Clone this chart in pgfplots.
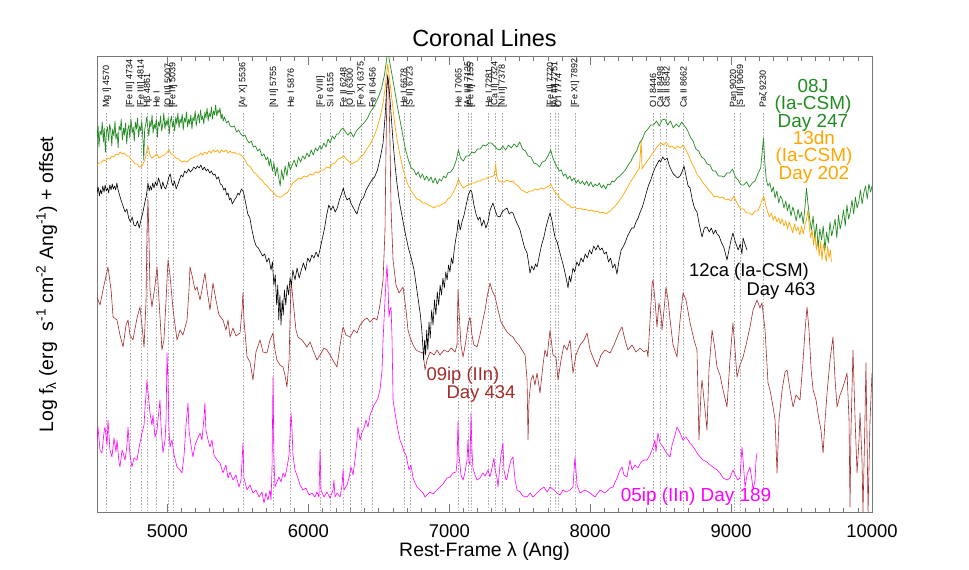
\documentclass[border=0pt]{standalone}
\usepackage{fontspec}
\setmainfont{Liberation Sans}
\usepackage{pgfplots}
\pgfplotsset{compat=1.18}
\definecolor{cgreen}{RGB}{34,139,34}
\definecolor{corange}{RGB}{255,165,0}
\definecolor{cbrown}{RGB}{165,42,42}
\definecolor{cmag}{RGB}{255,0,255}
\definecolor{cframe}{RGB}{120,120,120}
\definecolor{cdot}{RGB}{175,175,175}
\newcommand{\fs}[1]{\fontsize{#1}{#1}\selectfont}
\newcommand{\cl}[2]{\draw[cdot, line width=0.8bp, dash pattern=on 1.6bp off 1.6bp] (axis cs:#1,-113) -- (axis cs:#1,-512);
  \node[rotate=90, anchor=west, inner sep=0pt, font=\fs{9}] at (axis cs:#1,-108) {#2};}
\begin{document}
\begin{tikzpicture}
\begin{axis}[
  at={(97bp,58bp)}, anchor=south west,
  scale only axis, width=775bp, height=455bp,
  xmin=4500, xmax=10000, ymin=-512, ymax=-57,
  xtick={5000,6000,7000,8000,9000,10000}, minor x tick num=9,
  scaled x ticks=false,
  ytick=\empty,
  major tick length=8bp, minor tick length=4bp,
  axis line style={cframe, line width=1bp},
  tick style={cframe, line width=0.8bp},
  xticklabel style={font=\fs{18.5}, anchor=base, yshift=-25bp, text=black},
  /pgf/number format/assume math mode=true,
  /pgf/number format/1000 sep={},
  every axis plot/.append style={line width=0.7bp, line join=round},
]
\cl{4570}{Mg I] 4570}
\cl{4734}{[Fe III] 4734}
\cl{4814}{[Fe III] 4814}
\cl{4861}{Hβ 4861}
\cl{4922}{He I}
\cl{5007}{[O III] 5007}
\cl{5039}{[Fe II] 5039}
\cl{5536}{[Ar X] 5536}
\cl{5755}{[N II] 5755}
\cl{5876}{He I 5876}
\cl{6087}{[Fe VIII]}
\cl{6155}{Si I 6155}
\cl{6248}{Fe II 6248}
\cl{6300}{[O I] 6300}
\cl{6375}{[Fe X] 6375}
\cl{6456}{Fe II 6456}
\cl{6678}{He I 6678}
\cl{6723}{[S II] 6723}
\cl{7065}{He I 7065}
\cl{7135}{[Ar III] 7135}
\cl{7155}{[Fe II] 7155}
\cl{7281}{He I 7281}
\cl{7324}{[Ca II] 7324}
\cl{7378}{[Ni II] 7378}
\cl{7720}{[Fe II] 7720}
\cl{7751}{[Ar III] 7751}
\cl{7774}{O I 7774}
\cl{7892}{[Fe XI] 7892}
\cl{8446}{O I 8446}
\cl{8498}{Ca II 8498}
\cl{8542}{Ca II 8542}
\cl{8662}{Ca II 8662}
\cl{9020}{Paη 9020}
\cl{9069}{[S III] 9069}
\cl{9230}{Paζ 9230}

% 09ip (IIn) Day 434
\addplot[cbrown, line width=0.6bp] table[row sep=\\] {x y\\
4500 -297\\ 4521 -305\\ 4550 -285\\ 4578 -267\\ 4600 -290\\ 4614 -317\\ 4642 -320\\ 4663 -335\\ 4685 -347\\ 4706 -325\\ 4720 -320\\ 4734 -335\\ 4755 -340\\ 4784 -318\\ 4805 -307\\ 4819 -325\\ 4834 -347\\ 4848 -300\\ 4855 -230\\ 4862 -200\\ 4869 -240\\ 4876 -290\\ 4890 -307\\ 4912 -285\\ 4926 -267\\ 4940 -300\\ 4961 -350\\ 4975 -340\\ 4990 -300\\ 5004 -260\\ 5018 -275\\ 5040 -310\\ 5068 -340\\ 5089 -330\\ 5110 -335\\ 5139 -320\\ 5153 -290\\ 5160 -267\\ 5174 -275\\ 5196 -290\\ 5210 -287\\ 5231 -300\\ 5245 -290\\ 5266 -273\\ 5281 -290\\ 5302 -310\\ 5323 -283\\ 5344 -300\\ 5366 -315\\ 5394 -320\\ 5415 -330\\ 5430 -320\\ 5444 -337\\ 5465 -328\\ 5486 -336\\ 5515 -333\\ 5529 -310\\ 5536 -293\\ 5543 -320\\ 5565 -357\\ 5586 -362\\ 5607 -380\\ 5628 -352\\ 5657 -340\\ 5678 -352\\ 5706 -353\\ 5728 -340\\ 5749 -333\\ 5763 -350\\ 5777 -360\\ 5799 -365\\ 5820 -367\\ 5834 -375\\ 5848 -387\\ 5863 -360\\ 5877 -280\\ 5891 -300\\ 5912 -330\\ 5926 -337\\ 5955 -340\\ 5990 -347\\ 6012 -342\\ 6033 -350\\ 6061 -360\\ 6083 -355\\ 6111 -348\\ 6132 -350\\ 6154 -355\\ 6182 -362\\ 6203 -367\\ 6225 -345\\ 6246 -327\\ 6267 -335\\ 6296 -337\\ 6324 -330\\ 6345 -333\\ 6367 -325\\ 6395 -320\\ 6416 -318\\ 6438 -322\\ 6466 -318\\ 6487 -320\\ 6508 -305\\ 6530 -280\\ 6544 -230\\ 6551 -150\\ 6558 -85\\ 6565 -80\\ 6572 -95\\ 6579 -140\\ 6587 -210\\ 6601 -260\\ 6622 -285\\ 6643 -293\\ 6672 -287\\ 6693 -310\\ 6707 -330\\ 6721 -337\\ 6743 -345\\ 6764 -350\\ 6792 -352\\ 6814 -353\\ 6828 -370\\ 6842 -360\\ 6863 -352\\ 6892 -355\\ 6913 -350\\ 6934 -355\\ 6963 -350\\ 6991 -352\\ 7013 -348\\ 7041 -352\\ 7055 -345\\ 7062 -290\\ 7069 -310\\ 7083 -345\\ 7098 -357\\ 7119 -340\\ 7133 -325\\ 7147 -317\\ 7161 -335\\ 7175 -345\\ 7197 -347\\ 7218 -335\\ 7239 -320\\ 7254 -310\\ 7268 -297\\ 7289 -283\\ 7303 -290\\ 7325 -297\\ 7346 -310\\ 7367 -322\\ 7388 -327\\ 7410 -332\\ 7431 -335\\ 7452 -337\\ 7474 -342\\ 7495 -345\\ 7516 -350\\ 7538 -355\\ 7552 -380\\ 7559 -440\\ 7566 -400\\ 7580 -380\\ 7594 -375\\ 7608 -385\\ 7623 -373\\ 7644 -393\\ 7665 -365\\ 7679 -350\\ 7694 -357\\ 7715 -330\\ 7736 -355\\ 7757 -357\\ 7772 -380\\ 7793 -360\\ 7814 -345\\ 7836 -350\\ 7857 -340\\ 7878 -373\\ 7899 -355\\ 7928 -345\\ 7956 -340\\ 7978 -333\\ 7999 -350\\ 8027 -360\\ 8049 -367\\ 8077 -355\\ 8105 -350\\ 8141 -353\\ 8169 -345\\ 8197 -335\\ 8212 -330\\ 8226 -327\\ 8247 -340\\ 8268 -350\\ 8297 -345\\ 8325 -352\\ 8354 -348\\ 8382 -352\\ 8403 -350\\ 8410 -357\\ 8425 -320\\ 8439 -285\\ 8446 -280\\ 8460 -300\\ 8474 -327\\ 8488 -303\\ 8503 -315\\ 8510 -330\\ 8524 -310\\ 8538 -287\\ 8553 -300\\ 8567 -320\\ 8588 -345\\ 8616 -357\\ 8638 -320\\ 8659 -293\\ 8680 -300\\ 8709 -323\\ 8737 -340\\ 8758 -350\\ 8772 -440\\ 8787 -390\\ 8794 -380\\ 8815 -410\\ 8829 -430\\ 8843 -370\\ 8865 -330\\ 8886 -350\\ 8900 -367\\ 8921 -375\\ 8943 -390\\ 8971 -407\\ 8992 -360\\ 9013 -323\\ 9028 -350\\ 9042 -377\\ 9063 -365\\ 9085 -357\\ 9106 -345\\ 9134 -327\\ 9156 -310\\ 9184 -300\\ 9205 -308\\ 9219 -303\\ 9241 -330\\ 9262 -383\\ 9276 -390\\ 9298 -407\\ 9312 -420\\ 9326 -473\\ 9340 -420\\ 9362 -390\\ 9383 -372\\ 9397 -370\\ 9418 -390\\ 9440 -407\\ 9461 -395\\ 9489 -400\\ 9511 -360\\ 9525 -330\\ 9539 -307\\ 9553 -330\\ 9568 -370\\ 9582 -390\\ 9603 -400\\ 9624 -420\\ 9638 -430\\ 9653 -453\\ 9667 -420\\ 9681 -393\\ 9702 -360\\ 9723 -337\\ 9738 -380\\ 9752 -407\\ 9773 -395\\ 9787 -390\\ 9809 -380\\ 9823 -373\\ 9837 -420\\ 9844 -507\\ 9851 -430\\ 9865 -350\\ 9880 -420\\ 9894 -473\\ 9908 -440\\ 9915 -413\\ 9929 -460\\ 9936 -512\\ 9950 -420\\ 9957 -363\\ 9965 -440\\ 9972 -512\\ 9986 -420\\ 10000 -373\\
};

% 05ip (IIn) Day 189
\addplot[cmag, line width=0.6bp] table[row sep=\\] {x y\\
4500 -440\\ 4507 -427\\ 4521 -450\\ 4535 -453\\ 4550 -432\\ 4557 -427\\ 4571 -445\\ 4578 -420\\ 4592 -450\\ 4606 -457\\ 4621 -438\\ 4635 -452\\ 4642 -440\\ 4656 -462\\ 4663 -467\\ 4678 -450\\ 4685 -453\\ 4699 -460\\ 4713 -445\\ 4720 -427\\ 4734 -455\\ 4748 -467\\ 4762 -458\\ 4784 -460\\ 4798 -448\\ 4819 -433\\ 4834 -425\\ 4841 -407\\ 4848 -395\\ 4855 -380\\ 4862 -392\\ 4876 -413\\ 4890 -425\\ 4897 -415\\ 4912 -437\\ 4926 -430\\ 4940 -410\\ 4947 -400\\ 4954 -425\\ 4968 -453\\ 4983 -440\\ 4990 -420\\ 4997 -353\\ 5004 -380\\ 5011 -430\\ 5018 -447\\ 5032 -440\\ 5047 -455\\ 5068 -467\\ 5089 -470\\ 5103 -473\\ 5118 -455\\ 5132 -425\\ 5146 -403\\ 5153 -430\\ 5167 -445\\ 5181 -457\\ 5196 -445\\ 5210 -440\\ 5231 -433\\ 5245 -440\\ 5259 -418\\ 5266 -403\\ 5273 -430\\ 5288 -440\\ 5302 -447\\ 5316 -440\\ 5330 -455\\ 5352 -460\\ 5373 -463\\ 5394 -473\\ 5415 -465\\ 5430 -478\\ 5444 -472\\ 5465 -480\\ 5486 -475\\ 5508 -487\\ 5522 -480\\ 5536 -443\\ 5543 -478\\ 5565 -490\\ 5586 -485\\ 5607 -493\\ 5628 -490\\ 5650 -497\\ 5671 -492\\ 5685 -503\\ 5699 -493\\ 5713 -500\\ 5728 -490\\ 5735 -500\\ 5742 -470\\ 5749 -377\\ 5756 -460\\ 5763 -487\\ 5777 -482\\ 5791 -477\\ 5806 -482\\ 5820 -473\\ 5834 -477\\ 5848 -468\\ 5863 -455\\ 5870 -435\\ 5877 -413\\ 5884 -430\\ 5891 -455\\ 5905 -470\\ 5926 -478\\ 5941 -485\\ 5962 -490\\ 5983 -488\\ 6005 -495\\ 6026 -493\\ 6047 -497\\ 6061 -492\\ 6075 -497\\ 6083 -450\\ 6090 -490\\ 6111 -497\\ 6132 -492\\ 6154 -498\\ 6175 -490\\ 6182 -480\\ 6189 -497\\ 6203 -493\\ 6225 -497\\ 6239 -485\\ 6246 -470\\ 6253 -490\\ 6274 -485\\ 6288 -478\\ 6303 -467\\ 6317 -475\\ 6331 -460\\ 6345 -440\\ 6352 -427\\ 6367 -440\\ 6381 -432\\ 6395 -428\\ 6409 -420\\ 6423 -427\\ 6438 -415\\ 6452 -410\\ 6466 -405\\ 6480 -402\\ 6494 -398\\ 6508 -390\\ 6523 -370\\ 6530 -340\\ 6537 -320\\ 6544 -300\\ 6551 -280\\ 6558 -265\\ 6565 -285\\ 6572 -317\\ 6579 -310\\ 6587 -307\\ 6594 -340\\ 6601 -400\\ 6615 -413\\ 6629 -425\\ 6650 -440\\ 6665 -445\\ 6679 -452\\ 6693 -455\\ 6700 -460\\ 6714 -470\\ 6728 -465\\ 6743 -478\\ 6757 -483\\ 6771 -487\\ 6792 -490\\ 6814 -493\\ 6828 -497\\ 6842 -495\\ 6863 -492\\ 6885 -494\\ 6913 -490\\ 6934 -487\\ 6956 -484\\ 6984 -478\\ 7005 -477\\ 7027 -473\\ 7048 -472\\ 7055 -462\\ 7062 -422\\ 7069 -455\\ 7083 -475\\ 7098 -480\\ 7112 -472\\ 7126 -460\\ 7133 -440\\ 7140 -462\\ 7147 -465\\ 7154 -413\\ 7161 -450\\ 7168 -468\\ 7183 -475\\ 7197 -480\\ 7218 -478\\ 7239 -473\\ 7254 -476\\ 7275 -470\\ 7289 -477\\ 7303 -468\\ 7317 -458\\ 7325 -470\\ 7339 -478\\ 7346 -487\\ 7360 -465\\ 7367 -455\\ 7381 -443\\ 7388 -470\\ 7403 -480\\ 7410 -478\\ 7424 -468\\ 7438 -460\\ 7452 -457\\ 7467 -480\\ 7481 -490\\ 7502 -492\\ 7523 -496\\ 7552 -497\\ 7573 -493\\ 7594 -497\\ 7623 -493\\ 7644 -490\\ 7672 -487\\ 7694 -492\\ 7715 -487\\ 7743 -490\\ 7765 -493\\ 7786 -495\\ 7807 -490\\ 7828 -492\\ 7857 -490\\ 7878 -487\\ 7892 -457\\ 7907 -485\\ 7928 -493\\ 7963 -490\\ 7999 -493\\ 8034 -497\\ 8070 -490\\ 8105 -493\\ 8141 -488\\ 8162 -487\\ 8190 -478\\ 8212 -470\\ 8226 -467\\ 8240 -475\\ 8261 -477\\ 8283 -460\\ 8297 -470\\ 8318 -465\\ 8339 -468\\ 8361 -462\\ 8382 -460\\ 8403 -460\\ 8425 -455\\ 8446 -447\\ 8460 -440\\ 8467 -452\\ 8481 -433\\ 8496 -443\\ 8517 -447\\ 8538 -452\\ 8553 -455\\ 8567 -457\\ 8581 -445\\ 8602 -435\\ 8616 -427\\ 8638 -433\\ 8659 -440\\ 8680 -437\\ 8709 -443\\ 8737 -448\\ 8758 -453\\ 8780 -457\\ 8801 -460\\ 8829 -462\\ 8850 -465\\ 8872 -467\\ 8900 -470\\ 8921 -473\\ 8943 -478\\ 8971 -480\\ 8992 -478\\ 9013 -470\\ 9028 -475\\ 9049 -480\\ 9063 -478\\ 9077 -447\\ 9085 -460\\ 9099 -487\\ 9113 -475\\ 9134 -467\\ 9148 -480\\ 9156 -490\\ 9170 -480\\ 9177 -460\\ 9184 -453\\
};

% 12ca (Ia-CSM) Day 463
\addplot[black, line width=0.6bp] table[row sep=\\] {x y\\
4500 -193\\ 4508 -187\\ 4517 -196\\ 4525 -190\\ 4533 -194\\ 4541 -186\\ 4550 -192\\ 4558 -185\\ 4566 -191\\ 4575 -188\\ 4583 -193\\ 4591 -185\\ 4600 -190\\ 4608 -184\\ 4616 -189\\ 4625 -186\\ 4633 -190\\ 4641 -183\\ 4650 -190\\ 4662 -196\\ 4675 -202\\ 4687 -207\\ 4700 -212\\ 4712 -209\\ 4725 -218\\ 4737 -222\\ 4750 -217\\ 4762 -225\\ 4775 -226\\ 4787 -221\\ 4800 -228\\ 4812 -220\\ 4825 -213\\ 4837 -204\\ 4850 -196\\ 4862 -183\\ 4870 -191\\ 4878 -186\\ 4887 -190\\ 4895 -183\\ 4905 -188\\ 4914 -182\\ 4925 -186\\ 4937 -178\\ 4947 -183\\ 4957 -189\\ 4967 -182\\ 4977 -187\\ 4987 -189\\ 5000 -183\\ 5010 -177\\ 5020 -174\\ 5030 -182\\ 5040 -186\\ 5050 -181\\ 5062 -189\\ 5075 -184\\ 5087 -179\\ 5097 -175\\ 5110 -177\\ 5122 -171\\ 5135 -173\\ 5150 -169\\ 5162 -172\\ 5175 -170\\ 5187 -167\\ 5200 -169\\ 5212 -166\\ 5225 -168\\ 5237 -165\\ 5250 -170\\ 5262 -167\\ 5275 -171\\ 5287 -169\\ 5300 -173\\ 5312 -171\\ 5325 -175\\ 5337 -174\\ 5350 -179\\ 5362 -177\\ 5375 -184\\ 5387 -185\\ 5400 -190\\ 5410 -188\\ 5420 -195\\ 5430 -193\\ 5440 -200\\ 5450 -198\\ 5460 -204\\ 5475 -200\\ 5490 -197\\ 5500 -193\\ 5510 -195\\ 5525 -189\\ 5540 -192\\ 5555 -203\\ 5570 -214\\ 5585 -218\\ 5600 -230\\ 5615 -240\\ 5630 -246\\ 5645 -248\\ 5660 -252\\ 5675 -256\\ 5690 -254\\ 5705 -262\\ 5720 -258\\ 5735 -270\\ 5745 -262\\ 5755 -285\\ 5765 -275\\ 5775 -305\\ 5783 -285\\ 5790 -320\\ 5798 -295\\ 5806 -325\\ 5814 -300\\ 5822 -315\\ 5830 -290\\ 5840 -305\\ 5850 -285\\ 5860 -295\\ 5870 -278\\ 5880 -285\\ 5890 -270\\ 5905 -280\\ 5920 -268\\ 5935 -278\\ 5950 -270\\ 5965 -263\\ 5980 -270\\ 5995 -258\\ 6010 -262\\ 6025 -255\\ 6040 -258\\ 6055 -252\\ 6070 -257\\ 6085 -248\\ 6100 -238\\ 6115 -228\\ 6130 -215\\ 6145 -205\\ 6160 -210\\ 6175 -206\\ 6190 -212\\ 6205 -208\\ 6220 -200\\ 6235 -194\\ 6248 -188\\ 6260 -195\\ 6275 -200\\ 6290 -198\\ 6305 -204\\ 6320 -208\\ 6335 -212\\ 6345 -214\\ 6360 -206\\ 6375 -200\\ 6390 -198\\ 6410 -190\\ 6430 -185\\ 6450 -180\\ 6470 -177\\ 6490 -170\\ 6510 -158\\ 6530 -143\\ 6545 -115\\ 6555 -90\\ 6563 -75\\ 6572 -86\\ 6585 -110\\ 6600 -140\\ 6615 -165\\ 6630 -185\\ 6650 -205\\ 6670 -220\\ 6690 -235\\ 6710 -248\\ 6730 -258\\ 6750 -270\\ 6765 -285\\ 6780 -300\\ 6795 -315\\ 6805 -330\\ 6812 -345\\ 6818 -360\\ 6825 -340\\ 6832 -355\\ 6840 -330\\ 6848 -350\\ 6856 -322\\ 6865 -338\\ 6875 -310\\ 6885 -325\\ 6895 -300\\ 6905 -315\\ 6915 -292\\ 6925 -305\\ 6935 -285\\ 6945 -295\\ 6955 -278\\ 6965 -288\\ 6975 -272\\ 6985 -280\\ 6995 -265\\ 7005 -272\\ 7015 -258\\ 7025 -264\\ 7035 -250\\ 7045 -240\\ 7055 -232\\ 7065 -220\\ 7078 -230\\ 7090 -222\\ 7105 -215\\ 7120 -205\\ 7135 -195\\ 7150 -190\\ 7160 -192\\ 7175 -205\\ 7190 -214\\ 7205 -220\\ 7218 -217\\ 7230 -226\\ 7245 -220\\ 7260 -228\\ 7275 -222\\ 7290 -210\\ 7310 -203\\ 7325 -210\\ 7340 -216\\ 7360 -217\\ 7375 -212\\ 7390 -210\\ 7410 -208\\ 7425 -214\\ 7440 -212\\ 7452 -213\\ 7470 -220\\ 7490 -226\\ 7502 -230\\ 7520 -240\\ 7535 -248\\ 7552 -253\\ 7562 -262\\ 7573 -273\\ 7585 -266\\ 7600 -270\\ 7612 -264\\ 7623 -267\\ 7640 -255\\ 7655 -245\\ 7670 -238\\ 7685 -228\\ 7700 -220\\ 7715 -213\\ 7728 -220\\ 7740 -230\\ 7752 -238\\ 7765 -242\\ 7780 -250\\ 7795 -258\\ 7807 -264\\ 7820 -272\\ 7832 -280\\ 7843 -288\\ 7852 -276\\ 7862 -282\\ 7878 -268\\ 7890 -272\\ 7905 -262\\ 7920 -266\\ 7935 -258\\ 7950 -262\\ 7965 -254\\ 7980 -258\\ 7995 -250\\ 8010 -254\\ 8025 -246\\ 8040 -250\\ 8055 -245\\ 8070 -250\\ 8085 -248\\ 8100 -254\\ 8115 -252\\ 8130 -262\\ 8145 -258\\ 8160 -268\\ 8175 -264\\ 8190 -274\\ 8205 -260\\ 8220 -250\\ 8233 -247\\ 8250 -242\\ 8265 -236\\ 8280 -232\\ 8295 -228\\ 8310 -228\\ 8325 -222\\ 8340 -218\\ 8355 -212\\ 8370 -207\\ 8385 -200\\ 8400 -192\\ 8415 -185\\ 8430 -180\\ 8446 -173\\ 8460 -168\\ 8475 -164\\ 8490 -160\\ 8500 -162\\ 8515 -157\\ 8530 -160\\ 8546 -158\\ 8560 -165\\ 8575 -170\\ 8590 -174\\ 8605 -176\\ 8620 -178\\ 8638 -176\\ 8652 -172\\ 8666 -166\\ 8680 -176\\ 8695 -186\\ 8709 -188\\ 8725 -200\\ 8740 -208\\ 8758 -212\\ 8775 -225\\ 8794 -237\\ 8810 -228\\ 8829 -227\\ 8845 -232\\ 8860 -228\\ 8875 -234\\ 8890 -230\\ 8900 -234\\ 8915 -236\\ 8930 -242\\ 8950 -248\\ 8971 -260\\ 8985 -250\\ 9000 -240\\ 9013 -233\\ 9030 -242\\ 9050 -250\\ 9065 -244\\ 9077 -254\\ 9085 -238\\ 9100 -245\\ 9113 -250\\
};

% 13dn (Ia-CSM) Day 202
\addplot[corange, line width=0.7bp] table[row sep=\\] {x y\\
4500 -165\\ 4515 -163\\ 4530 -163\\ 4545 -160\\ 4560 -161\\ 4575 -158\\ 4590 -159\\ 4605 -156\\ 4620 -157\\ 4635 -154\\ 4650 -155\\ 4665 -152\\ 4680 -154\\ 4695 -153\\ 4710 -156\\ 4725 -156\\ 4740 -159\\ 4755 -161\\ 4770 -164\\ 4785 -164\\ 4800 -167\\ 4820 -166\\ 4840 -160\\ 4855 -150\\ 4862 -146\\ 4875 -155\\ 4890 -158\\ 4910 -156\\ 4925 -154\\ 4940 -158\\ 4960 -156\\ 4980 -155\\ 5000 -152\\ 5012 -150\\ 5025 -154\\ 5040 -155\\ 5060 -158\\ 5080 -159\\ 5100 -162\\ 5120 -161\\ 5140 -162\\ 5160 -159\\ 5180 -158\\ 5200 -156\\ 5220 -156\\ 5235 -153\\ 5250 -155\\ 5265 -152\\ 5280 -154\\ 5295 -151\\ 5310 -153\\ 5325 -150\\ 5340 -152\\ 5355 -150\\ 5370 -153\\ 5385 -150\\ 5400 -152\\ 5415 -150\\ 5430 -153\\ 5445 -151\\ 5460 -153\\ 5475 -152\\ 5490 -154\\ 5510 -154\\ 5530 -156\\ 5550 -160\\ 5570 -165\\ 5590 -167\\ 5610 -172\\ 5630 -174\\ 5650 -178\\ 5670 -180\\ 5690 -184\\ 5710 -186\\ 5730 -190\\ 5750 -192\\ 5770 -196\\ 5790 -197\\ 5810 -197\\ 5830 -194\\ 5850 -193\\ 5870 -188\\ 5890 -183\\ 5910 -181\\ 5930 -178\\ 5950 -179\\ 5970 -176\\ 5990 -177\\ 6010 -174\\ 6030 -175\\ 6050 -172\\ 6070 -173\\ 6090 -170\\ 6110 -170\\ 6130 -167\\ 6150 -168\\ 6170 -164\\ 6190 -163\\ 6210 -159\\ 6230 -158\\ 6250 -156\\ 6270 -159\\ 6290 -162\\ 6310 -164\\ 6330 -162\\ 6350 -161\\ 6370 -157\\ 6390 -155\\ 6410 -150\\ 6430 -146\\ 6450 -141\\ 6470 -135\\ 6490 -127\\ 6510 -117\\ 6530 -103\\ 6545 -88\\ 6555 -74\\ 6563 -64\\ 6572 -74\\ 6585 -90\\ 6600 -108\\ 6615 -126\\ 6630 -140\\ 6650 -155\\ 6670 -168\\ 6690 -178\\ 6710 -186\\ 6730 -191\\ 6750 -195\\ 6770 -199\\ 6790 -200\\ 6810 -203\\ 6830 -203\\ 6850 -205\\ 6870 -206\\ 6890 -208\\ 6910 -206\\ 6930 -206\\ 6950 -204\\ 6970 -203\\ 6990 -199\\ 7010 -197\\ 7030 -192\\ 7050 -186\\ 7065 -179\\ 7080 -184\\ 7100 -188\\ 7120 -186\\ 7140 -185\\ 7160 -183\\ 7180 -183\\ 7200 -181\\ 7220 -181\\ 7240 -179\\ 7260 -179\\ 7280 -177\\ 7300 -177\\ 7320 -175\\ 7330 -164\\ 7336 -176\\ 7350 -181\\ 7370 -182\\ 7390 -182\\ 7410 -180\\ 7430 -182\\ 7450 -181\\ 7470 -184\\ 7490 -186\\ 7510 -190\\ 7530 -191\\ 7550 -193\\ 7570 -191\\ 7590 -191\\ 7610 -189\\ 7630 -190\\ 7650 -188\\ 7670 -189\\ 7690 -187\\ 7710 -186\\ 7720 -184\\ 7730 -187\\ 7750 -192\\ 7770 -195\\ 7790 -199\\ 7810 -201\\ 7830 -204\\ 7850 -205\\ 7870 -208\\ 7890 -207\\ 7910 -209\\ 7930 -208\\ 7950 -210\\ 7970 -209\\ 7990 -211\\ 8010 -210\\ 8030 -212\\ 8050 -211\\ 8070 -213\\ 8090 -212\\ 8110 -214\\ 8130 -212\\ 8150 -210\\ 8170 -207\\ 8190 -204\\ 8210 -200\\ 8230 -196\\ 8250 -191\\ 8270 -186\\ 8290 -181\\ 8310 -177\\ 8330 -172\\ 8350 -168\\ 8362 -140\\ 8368 -169\\ 8380 -166\\ 8400 -162\\ 8420 -158\\ 8440 -154\\ 8460 -150\\ 8480 -146\\ 8500 -143\\ 8520 -145\\ 8540 -142\\ 8560 -147\\ 8580 -146\\ 8600 -149\\ 8620 -146\\ 8640 -148\\ 8660 -145\\ 8680 -150\\ 8700 -156\\ 8720 -163\\ 8740 -168\\ 8760 -175\\ 8780 -178\\ 8800 -183\\ 8820 -186\\ 8840 -190\\ 8860 -193\\ 8880 -197\\ 8900 -196\\ 8920 -198\\ 8940 -197\\ 8960 -200\\ 8980 -199\\ 9000 -201\\ 9020 -196\\ 9035 -201\\ 9050 -205\\ 9070 -209\\ 9090 -209\\ 9110 -213\\ 9130 -213\\ 9150 -215\\ 9170 -211\\ 9190 -211\\ 9205 -206\\ 9220 -200\\ 9232 -196\\ 9245 -205\\ 9260 -212\\ 9272 -217\\ 9285 -213\\ 9300 -220\\ 9312 -216\\ 9325 -222\\ 9338 -218\\ 9350 -224\\ 9362 -219\\ 9375 -226\\ 9388 -221\\ 9400 -229\\ 9412 -222\\ 9425 -227\\ 9438 -233\\ 9450 -224\\ 9462 -231\\ 9475 -227\\ 9488 -235\\ 9500 -226\\ 9512 -234\\ 9525 -224\\ 9535 -220\\ 9545 -210\\ 9555 -227\\ 9565 -238\\ 9575 -230\\ 9585 -245\\ 9595 -233\\ 9605 -250\\ 9615 -238\\ 9625 -256\\ 9635 -241\\ 9645 -260\\ 9655 -244\\ 9665 -252\\ 9675 -262\\ 9685 -246\\ 9695 -258\\ 9705 -250\\ 9712 -262\\
};

% 08J (Ia-CSM) Day 247
\addplot[cgreen, line width=0.7bp] table[row sep=\\] {x y\\
4500 -138\\ 4508 -126\\ 4514 -147\\ 4522 -131\\ 4530 -135\\ 4537 -122\\ 4545 -142\\ 4551 -128\\ 4560 -152\\ 4566 -133\\ 4574 -127\\ 4583 -141\\ 4590 -124\\ 4598 -131\\ 4605 -146\\ 4611 -129\\ 4620 -136\\ 4628 -121\\ 4634 -139\\ 4643 -133\\ 4650 -148\\ 4657 -126\\ 4666 -130\\ 4672 -119\\ 4680 -140\\ 4689 -128\\ 4695 -135\\ 4703 -123\\ 4711 -144\\ 4718 -130\\ 4726 -125\\ 4733 -138\\ 4741 -119\\ 4750 -133\\ 4757 -127\\ 4765 -141\\ 4772 -122\\ 4780 -129\\ 4788 -118\\ 4795 -137\\ 4803 -126\\ 4811 -131\\ 4818 -121\\ 4826 -139\\ 4832 -160\\ 4838 -130\\ 4846 -124\\ 4853 -117\\ 4861 -128\\ 4868 -136\\ 4875 -121\\ 4883 -127\\ 4891 -115\\ 4898 -133\\ 4906 -124\\ 4913 -129\\ 4921 -119\\ 4929 -137\\ 4936 -122\\ 4944 -126\\ 4951 -116\\ 4959 -131\\ 4967 -124\\ 4974 -113\\ 4982 -129\\ 4990 -120\\ 4997 -126\\ 5005 -118\\ 5013 -134\\ 5020 -122\\ 5028 -116\\ 5036 -127\\ 5043 -121\\ 5051 -131\\ 5059 -117\\ 5066 -124\\ 5074 -113\\ 5082 -128\\ 5089 -119\\ 5097 -123\\ 5105 -114\\ 5112 -130\\ 5120 -118\\ 5128 -122\\ 5135 -112\\ 5143 -127\\ 5151 -119\\ 5158 -124\\ 5166 -115\\ 5174 -129\\ 5181 -117\\ 5189 -121\\ 5197 -111\\ 5204 -126\\ 5212 -118\\ 5220 -114\\ 5227 -123\\ 5235 -110\\ 5243 -120\\ 5250 -116\\ 5258 -124\\ 5266 -112\\ 5273 -118\\ 5281 -108\\ 5289 -121\\ 5296 -113\\ 5304 -117\\ 5312 -107\\ 5319 -119\\ 5327 -111\\ 5335 -115\\ 5342 -105\\ 5350 -116\\ 5358 -110\\ 5365 -113\\ 5373 -108\\ 5381 -119\\ 5388 -114\\ 5396 -121\\ 5404 -117\\ 5420 -123\\ 5432 -121\\ 5445 -126\\ 5460 -127\\ 5475 -126\\ 5490 -132\\ 5505 -130\\ 5520 -134\\ 5535 -136\\ 5550 -135\\ 5565 -140\\ 5580 -143\\ 5595 -141\\ 5610 -147\\ 5625 -146\\ 5640 -151\\ 5655 -149\\ 5670 -156\\ 5685 -154\\ 5700 -160\\ 5712 -157\\ 5722 -166\\ 5732 -159\\ 5745 -171\\ 5756 -163\\ 5766 -176\\ 5778 -167\\ 5790 -178\\ 5800 -186\\ 5810 -170\\ 5822 -180\\ 5835 -166\\ 5848 -176\\ 5860 -162\\ 5872 -170\\ 5885 -165\\ 5900 -160\\ 5915 -167\\ 5930 -157\\ 5945 -162\\ 5960 -156\\ 5975 -159\\ 5990 -153\\ 6005 -157\\ 6020 -150\\ 6035 -155\\ 6050 -148\\ 6065 -151\\ 6080 -146\\ 6095 -149\\ 6110 -143\\ 6125 -147\\ 6140 -139\\ 6155 -143\\ 6170 -136\\ 6185 -139\\ 6200 -134\\ 6215 -134\\ 6230 -130\\ 6245 -128\\ 6260 -131\\ 6280 -135\\ 6300 -132\\ 6320 -137\\ 6340 -131\\ 6360 -128\\ 6380 -125\\ 6400 -122\\ 6420 -118\\ 6440 -112\\ 6460 -108\\ 6480 -102\\ 6500 -96\\ 6520 -88\\ 6540 -75\\ 6555 -60\\ 6563 -45\\ 6572 -58\\ 6590 -72\\ 6610 -88\\ 6630 -105\\ 6650 -120\\ 6670 -135\\ 6690 -150\\ 6710 -160\\ 6730 -168\\ 6750 -170\\ 6765 -175\\ 6780 -172\\ 6795 -178\\ 6810 -174\\ 6825 -180\\ 6840 -176\\ 6855 -181\\ 6870 -177\\ 6885 -183\\ 6900 -178\\ 6915 -184\\ 6930 -179\\ 6945 -181\\ 6960 -176\\ 6975 -178\\ 6990 -173\\ 7010 -172\\ 7030 -168\\ 7050 -160\\ 7065 -150\\ 7080 -158\\ 7100 -161\\ 7120 -156\\ 7140 -156\\ 7160 -152\\ 7180 -153\\ 7200 -149\\ 7220 -149\\ 7240 -145\\ 7260 -146\\ 7280 -143\\ 7300 -143\\ 7320 -146\\ 7340 -149\\ 7360 -150\\ 7380 -146\\ 7400 -150\\ 7420 -145\\ 7440 -148\\ 7460 -144\\ 7480 -147\\ 7500 -142\\ 7520 -149\\ 7540 -151\\ 7560 -156\\ 7580 -157\\ 7600 -163\\ 7620 -164\\ 7640 -167\\ 7660 -162\\ 7680 -161\\ 7700 -156\\ 7720 -150\\ 7735 -158\\ 7750 -163\\ 7765 -167\\ 7780 -171\\ 7795 -170\\ 7810 -176\\ 7825 -174\\ 7840 -179\\ 7855 -176\\ 7870 -181\\ 7885 -178\\ 7900 -183\\ 7915 -180\\ 7930 -184\\ 7945 -181\\ 7960 -185\\ 7975 -181\\ 7990 -186\\ 8005 -182\\ 8020 -187\\ 8035 -184\\ 8050 -186\\ 8065 -183\\ 8080 -188\\ 8095 -185\\ 8110 -189\\ 8125 -184\\ 8140 -185\\ 8155 -181\\ 8170 -182\\ 8190 -178\\ 8210 -176\\ 8230 -173\\ 8250 -170\\ 8270 -165\\ 8290 -161\\ 8310 -155\\ 8330 -151\\ 8350 -143\\ 8370 -139\\ 8390 -132\\ 8410 -129\\ 8430 -125\\ 8450 -125\\ 8470 -121\\ 8490 -126\\ 8510 -120\\ 8530 -119\\ 8550 -125\\ 8570 -121\\ 8590 -128\\ 8610 -124\\ 8630 -127\\ 8650 -122\\ 8670 -126\\ 8690 -130\\ 8710 -137\\ 8730 -141\\ 8750 -149\\ 8770 -151\\ 8790 -157\\ 8810 -159\\ 8830 -164\\ 8850 -165\\ 8870 -171\\ 8890 -171\\ 8910 -176\\ 8930 -176\\ 8950 -177\\ 8970 -173\\ 8990 -173\\ 9010 -169\\ 9030 -177\\ 9050 -180\\ 9070 -185\\ 9090 -185\\ 9110 -182\\ 9130 -187\\ 9150 -183\\ 9170 -181\\ 9190 -174\\ 9210 -168\\ 9222 -150\\ 9230 -138\\ 9238 -160\\ 9250 -180\\ 9262 -186\\ 9275 -183\\ 9288 -192\\ 9300 -187\\ 9312 -198\\ 9325 -191\\ 9338 -203\\ 9350 -196\\ 9362 -199\\ 9375 -208\\ 9388 -201\\ 9400 -211\\ 9412 -204\\ 9425 -216\\ 9438 -207\\ 9450 -213\\ 9462 -221\\ 9475 -209\\ 9488 -218\\ 9500 -212\\ 9512 -224\\ 9525 -206\\ 9535 -188\\ 9545 -203\\ 9558 -219\\ 9570 -230\\ 9582 -216\\ 9594 -238\\ 9606 -224\\ 9618 -247\\ 9630 -229\\ 9642 -240\\ 9654 -226\\ 9666 -250\\ 9678 -232\\ 9690 -243\\ 9702 -222\\ 9714 -236\\ 9726 -228\\ 9738 -219\\ 9750 -238\\ 9762 -215\\ 9774 -229\\ 9786 -221\\ 9798 -210\\ 9810 -226\\ 9822 -205\\ 9834 -219\\ 9846 -212\\ 9858 -200\\ 9870 -214\\ 9882 -197\\ 9894 -208\\ 9906 -202\\ 9918 -190\\ 9930 -204\\ 9942 -193\\ 9954 -186\\ 9966 -199\\ 9978 -184\\ 9990 -192\\ 10000 -186\\
};

\node[cgreen, align=center, font=\fontsize{19}{17.5}\selectfont, inner sep=0pt] at (axis cs:9581,-105) {08J\\(Ia-CSM)\\Day 247};
\node[corange, align=center, font=\fontsize{19}{17.5}\selectfont, inner sep=0pt] at (axis cs:9588,-157) {13dn\\(Ia-CSM)\\Day 202};
\node[black, font=\fs{18.5}, inner sep=0pt] at (axis cs:9127,-272) {12ca (Ia-CSM)};
\node[black, font=\fs{18.5}, inner sep=0pt] at (axis cs:9354,-291) {Day 463};
\node[cbrown, font=\fs{18.5}, inner sep=0pt] at (axis cs:7097,-376) {09ip (IIn)};
\node[cbrown, font=\fs{18.5}, inner sep=0pt] at (axis cs:7225,-394) {Day 434};
\node[cmag, font=\fs{19}, inner sep=0pt] at (axis cs:8751,-497) {05ip (IIn) Day 189};
\end{axis}
\node[anchor=base, font=\fs{23.5}] at (484.5bp,523bp) {Coronal Lines};
\node[anchor=base, font=\fs{19.5}] at (484.5bp,14bp) {Rest-Frame λ (Ang)};
\node[anchor=base, rotate=90, font=\fs{19.5}] at (53bp,285.5bp) {Log f\textsubscript{λ} (erg\ \ s\textsuperscript{-1} cm\textsuperscript{-2} Ang\textsuperscript{-1}) + offset};
\pgfresetboundingbox
\path[use as bounding box] (0,0) rectangle (969bp,570bp);
\end{tikzpicture}
\end{document}
